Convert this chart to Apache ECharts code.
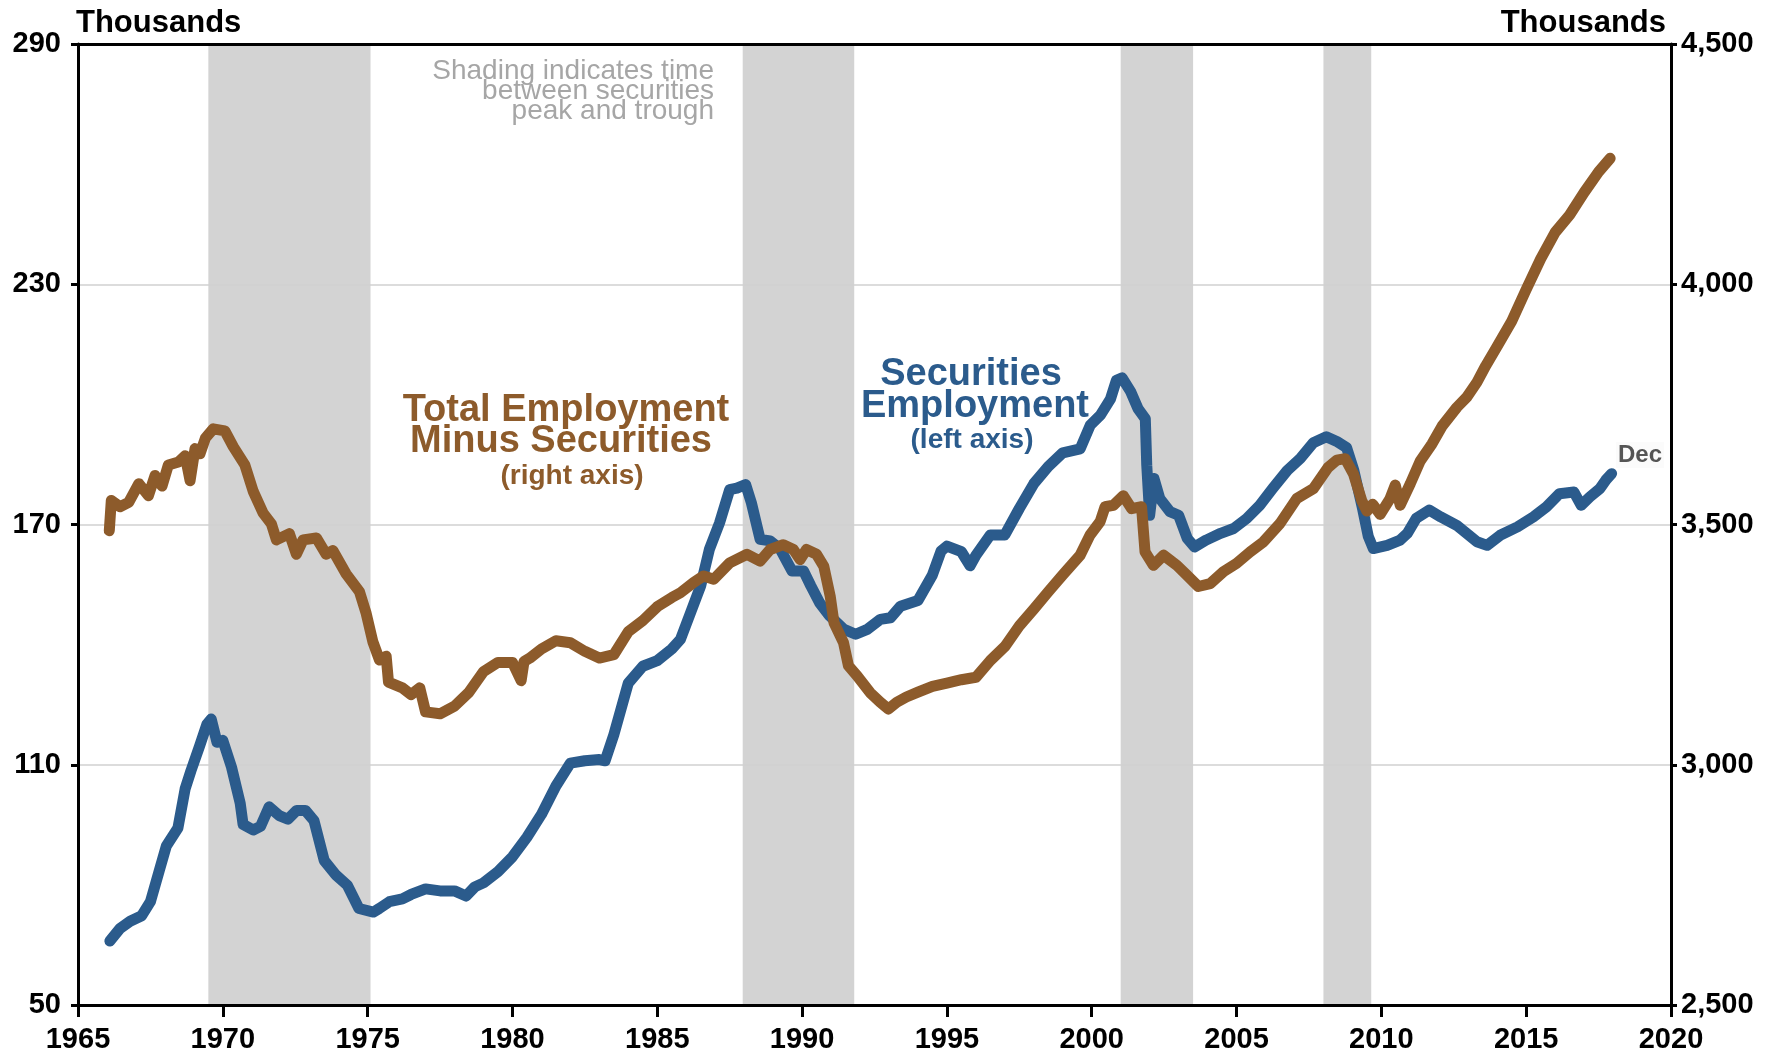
<!DOCTYPE html>
<html>
<head>
<meta charset="utf-8">
<title>Securities Employment</title>
<script src="https://cdn.jsdelivr.net/npm/echarts@6/dist/echarts.min.js"></script>
<style>
   html, body { margin: 0; padding: 0; background: #fff; }
   #chart { width: 1782px; height: 1062px; }
</style>
</head>
<body>
<div id="chart"></div>
<script>
// securities employment, left axis (thousands)
var secYears = [1966.1, 1966.45, 1966.8, 1967.2, 1967.5, 1967.8, 1968.05, 1968.45, 1968.7, 1968.9,
   1969.2, 1969.45, 1969.6, 1969.8, 1970.0, 1970.3, 1970.6, 1970.7, 1971.05, 1971.3,
   1971.6, 1971.95, 1972.25, 1972.55, 1972.85, 1973.15, 1973.5, 1973.9, 1974.3, 1974.7,
   1975.2, 1975.4, 1975.75, 1976.2, 1976.5, 1977.0, 1977.5, 1978.0, 1978.4, 1978.7,
   1979.0, 1979.5, 1980.0, 1980.5, 1981.0, 1981.5, 1982.0, 1982.5, 1983.0, 1983.2,
   1983.5, 1984.0, 1984.5, 1985.0, 1985.5, 1985.8, 1986.15, 1986.5, 1986.8, 1987.15,
   1987.5, 1987.75, 1988.05, 1988.25, 1988.55, 1988.9, 1989.25, 1989.65, 1990.05, 1990.3,
   1990.6, 1990.95, 1991.45, 1991.85, 1992.25, 1992.7, 1993.05, 1993.4, 1994.0, 1994.5,
   1994.8, 1995.0, 1995.5, 1995.8, 1996.0, 1996.5, 1997.0, 1997.5, 1998.0, 1998.5,
   1999.0, 1999.6, 1999.95, 2000.3, 2000.65, 2000.85, 2001.05, 2001.35, 2001.6, 2001.85,
   2001.9, 2002.0, 2002.15, 2002.35, 2002.7, 2003.0, 2003.3, 2003.55, 2003.95, 2004.45,
   2004.9, 2005.35, 2005.8, 2006.25, 2006.75, 2007.2, 2007.65, 2008.1, 2008.5, 2008.8,
   2009.05, 2009.35, 2009.55, 2009.72, 2010.2, 2010.65, 2010.9, 2011.2, 2011.65, 2012.05,
   2012.6, 2013.3, 2013.65, 2014.1, 2014.7, 2015.25, 2015.7, 2016.15, 2016.65, 2016.9,
   2017.2, 2017.55, 2017.75, 2017.95];
var secValues = [66.0, 69.1, 70.9, 72.3, 75.8, 83.4, 89.7, 94.2, 104.0, 108.5,
   114.7, 120.1, 121.4, 115.6, 116.1, 109.4, 100.4, 95.1, 93.7, 94.6,
   99.5, 97.3, 96.4, 98.6, 98.6, 96.0, 86.1, 82.5, 79.9, 74.1,
   73.2, 74.1, 75.8, 76.5, 77.6, 79.0, 78.5, 78.5, 77.2, 79.5,
   80.5, 83.3, 87.0, 91.9, 97.6, 104.7, 110.4, 111.0, 111.3, 111.0,
   117.5, 130.4, 134.6, 136.0, 138.9, 141.3, 148.0, 154.7, 163.8, 170.4,
   178.7, 179.1, 180.0, 175.4, 166.3, 165.9, 163.8, 158.4, 158.4, 154.7,
   150.5, 147.2, 143.8, 142.6, 143.8, 146.3, 146.7, 149.6, 151.0, 157.4,
   163.4, 164.6, 163.2, 159.7, 162.3, 167.4, 167.4, 174.0, 180.2, 184.5,
   187.9, 188.9, 194.8, 197.3, 201.4, 206.0, 206.6, 203.1, 198.9, 196.4,
   184.8, 172.3, 181.5, 176.5, 173.2, 172.3, 166.5, 164.4, 166.1, 167.8,
   169.0, 171.5, 174.8, 179.0, 183.5, 186.5, 190.4, 191.9, 190.6, 189.2,
   183.5, 174.0, 167.0, 164.0, 164.8, 166.1, 167.8, 171.5, 173.6, 171.9,
   169.8, 165.7, 164.8, 167.3, 169.4, 171.9, 174.4, 177.7, 178.1, 174.8,
   176.9, 179.0, 181.1, 182.7];

// total employment minus securities, right axis (thousands)
var totYears = [1966.08, 1966.15, 1966.45, 1966.75, 1967.1, 1967.43, 1967.66, 1967.9, 1968.12, 1968.47,
   1968.7, 1968.87, 1969.04, 1969.21, 1969.4, 1969.67, 1970.07, 1970.36, 1970.76, 1971.05,
   1971.39, 1971.68, 1971.85, 1972.3, 1972.54, 1972.77, 1973.23, 1973.57, 1973.8, 1974.26,
   1974.72, 1974.95, 1975.18, 1975.41, 1975.64, 1975.72, 1976.2, 1976.5, 1976.8, 1977.0,
   1977.5, 1978.0, 1978.5, 1979.0, 1979.5, 1980.0, 1980.3, 1980.4, 1980.6, 1981.0,
   1981.5, 1982.0, 1982.5, 1983.0, 1983.5, 1984.0, 1984.5, 1985.0, 1985.5, 1985.8,
   1986.25, 1986.6, 1986.95, 1987.5, 1988.1, 1988.55, 1988.9, 1989.35, 1989.7, 1989.93,
   1990.15, 1990.5, 1990.75, 1990.97, 1991.1, 1991.43, 1991.6, 1991.9, 1992.35, 1992.7,
   1992.98, 1993.27, 1993.6, 1994.0, 1994.5, 1995.0, 1995.5, 1996.0, 1996.5, 1997.0,
   1997.5, 1998.0, 1998.5, 1999.0, 1999.6, 1999.94, 2000.29, 2000.46, 2000.75, 2001.09,
   2001.38, 2001.72, 2001.84, 2002.13, 2002.48, 2002.94, 2003.28, 2003.68, 2004.09, 2004.55,
   2005.0, 2005.47, 2005.93, 2006.5, 2007.08, 2007.66, 2008.15, 2008.46, 2008.75, 2009.04,
   2009.32, 2009.5, 2009.7, 2009.96, 2010.3, 2010.48, 2010.65, 2011.0, 2011.34, 2011.75,
   2012.1, 2012.61, 2012.95, 2013.3, 2013.6, 2014.0, 2014.5, 2015.0, 2015.5, 2016.0,
   2016.5, 2017.0, 2017.5, 2017.9];
var totValues = [3487, 3550, 3537, 3546, 3585, 3560, 3602, 3580, 3624, 3630,
   3643, 3591, 3658, 3647, 3680, 3699, 3695, 3662, 3624, 3569,
   3524, 3501, 3468, 3481, 3438, 3468, 3472, 3438, 3446, 3397,
   3360, 3315, 3256, 3218, 3226, 3172, 3160, 3146, 3160, 3110,
   3106, 3122, 3151, 3194, 3213, 3213, 3175, 3215, 3222, 3241,
   3258, 3254, 3236, 3222, 3229, 3277, 3300, 3329, 3348, 3358,
   3379, 3393, 3386, 3420, 3438, 3424, 3448, 3458, 3448, 3427,
   3448, 3438, 3413, 3351, 3296, 3254, 3206, 3185, 3150, 3130,
   3116, 3130, 3141, 3151, 3163, 3170, 3177, 3182, 3217, 3246,
   3289, 3324, 3360, 3395, 3436, 3478, 3506, 3537, 3540, 3560,
   3533, 3537, 3443, 3415, 3436, 3415, 3395, 3371, 3377, 3402,
   3419, 3443, 3464, 3502, 3554, 3575, 3618, 3634, 3637, 3605,
   3550, 3528, 3542, 3521, 3554, 3582, 3540, 3585, 3632, 3668,
   3705, 3744, 3765, 3796, 3830, 3871, 3923, 3989, 4053, 4108,
   4144, 4191, 4234, 4262];

// securities peak to trough periods
var shadeStart = [1969.5, 1987.95, 2001.0, 2008.0];
var shadeEnd = [1975.1, 1991.8, 2003.5, 2009.65];

var xTicks = { min: 1965, max: 2020, step: 5 };
var leftTicks = { min: 50, max: 290, step: 60 };
var rightTicks = { min: 2500, max: 4500, step: 500 };

var blue = "#2b5b8c";
var brown = "#8d5b2b";
var font = "Liberation Sans";

function pairs(xs, ys) {
   var out = [];
   for (var i = 0; i < xs.length; i++) {
      out.push([xs[i], ys[i]]);
   }
   return out;
}

var shading = [];
for (var i = 0; i < shadeStart.length; i++) {
   shading.push([{ xAxis: shadeStart[i] }, { xAxis: shadeEnd[i] }]);
}

var labelStyle = { color: "#000", fontFamily: font, fontWeight: "bold", fontSize: 29 };
var frameLine = { show: true, onZero: false, lineStyle: { color: "#000", width: 3 } };

var chart = echarts.init(document.getElementById("chart"), null, { renderer: "canvas" });
var option = {
   animation: false,
   backgroundColor: "#fff",
   grid: { left: 78, right: 111, top: 44, bottom: 57 },
   xAxis: [{
      type: "value",
      position: "bottom",
      min: xTicks.min, max: xTicks.max, interval: xTicks.step,
      z: 10,
      axisLine: frameLine,
      axisTick: { show: true, inside: false, length: 12, lineStyle: { color: "#000", width: 3 } },
      axisLabel: Object.assign({
         margin: 20,
         formatter: function (v) { return String(v); }
      }, labelStyle),
      splitLine: { show: false }
   }, {
      type: "value",
      position: "top",
      min: xTicks.min, max: xTicks.max, interval: xTicks.step,
      z: 10,
      axisLine: frameLine,
      axisTick: { show: false },
      axisLabel: { show: false },
      splitLine: { show: false }
   }],
   yAxis: [{
      type: "value",
      position: "left",
      min: leftTicks.min, max: leftTicks.max, interval: leftTicks.step,
      z: 10,
      axisLine: frameLine,
      axisTick: { show: true, inside: false, length: 7, lineStyle: { color: "#000", width: 3 } },
      axisLabel: Object.assign({ margin: 17 }, labelStyle),
      splitLine: { show: false }
   }, {
      type: "value",
      position: "right",
      min: rightTicks.min, max: rightTicks.max, interval: rightTicks.step,
      z: 10,
      axisLine: frameLine,
      axisTick: { show: true, inside: false, length: 6, lineStyle: { color: "#000", width: 3 } },
      axisLabel: Object.assign({
         margin: 10,
         formatter: function (v) { return v.toLocaleString("en-US"); }
      }, labelStyle),
      splitLine: { show: false }
   }, {
      // gridlines only
      type: "value",
      position: "left",
      min: leftTicks.min, max: leftTicks.max, interval: leftTicks.step,
      z: 2,
      axisLine: { show: false },
      axisTick: { show: false },
      axisLabel: { show: false },
      splitLine: { show: true, lineStyle: { color: "#d0d0d0", width: 1.5 } }
   }],
   series: [{
      name: "shading",
      type: "line",
      data: [],
      z: 1,
      silent: true,
      markArea: {
         silent: true,
         itemStyle: { color: "#d3d3d3" },
         data: shading
      }
   }, {
      name: "Securities Employment",
      type: "line",
      xAxisIndex: 0,
      yAxisIndex: 0,
      data: pairs(secYears, secValues),
      showSymbol: false,
      z: 3,
      lineStyle: { color: blue, width: 11, cap: "round", join: "round" }
   }, {
      name: "Total Employment Minus Securities",
      type: "line",
      xAxisIndex: 0,
      yAxisIndex: 1,
      data: pairs(totYears, totValues),
      showSymbol: false,
      z: 4,
      lineStyle: { color: brown, width: 11, cap: "round", join: "round" }
   }],
   graphic: [
      { type: "text", left: 76, top: 8, z: 20,
        style: { text: "Thousands", fill: "#000", font: "bold 31px " + font } },
      { type: "text", right: 116, top: 8, z: 20,
        style: { text: "Thousands", fill: "#000", font: "bold 31px " + font } },
      { type: "text", x: 714, y: 91, z: 20,
        style: { text: "Shading indicates time\nbetween securities\npeak and trough",
           fill: "#a6a6a6", font: "28px " + font, lineHeight: 20,
           textAlign: "right", textVerticalAlign: "middle" } },
      { type: "text", x: 566, y: 411, z: 20,
        style: { text: "Total Employment", fill: brown, font: "bold 38px " + font,
           textAlign: "center", textVerticalAlign: "middle" } },
      { type: "text", x: 561, y: 442, z: 20,
        style: { text: "Minus Securities", fill: brown, font: "bold 38px " + font,
           textAlign: "center", textVerticalAlign: "middle" } },
      { type: "text", x: 572, y: 476, z: 20,
        style: { text: "(right axis)", fill: brown, font: "bold 28px " + font,
           textAlign: "center", textVerticalAlign: "middle" } },
      { type: "text", x: 971, y: 375, z: 20,
        style: { text: "Securities", fill: blue, font: "bold 38px " + font,
           textAlign: "center", textVerticalAlign: "middle" } },
      { type: "text", x: 975, y: 407, z: 20,
        style: { text: "Employment", fill: blue, font: "bold 38px " + font,
           textAlign: "center", textVerticalAlign: "middle" } },
      { type: "text", x: 972, y: 440, z: 20,
        style: { text: "(left axis)", fill: blue, font: "bold 28px " + font,
           textAlign: "center", textVerticalAlign: "middle" } },
      { type: "text", x: 1640, y: 455, z: 20,
        style: { text: "Dec", fill: "#555", font: "bold 24px " + font,
           backgroundColor: "#fbfbfb", padding: [1, 2],
           textAlign: "center", textVerticalAlign: "middle" } }
   ]
};
chart.setOption(option);
</script>
</body>
</html>
